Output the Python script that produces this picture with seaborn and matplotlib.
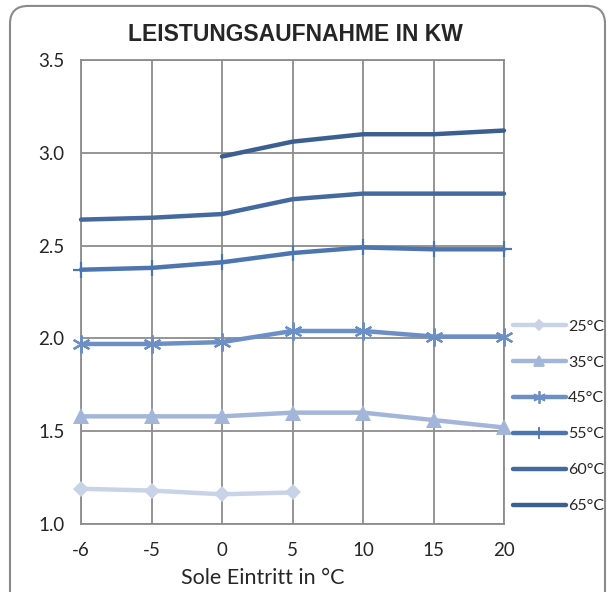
import matplotlib
matplotlib.use('Agg')
import matplotlib.pyplot as plt
import seaborn as sns
import numpy as np
import pandas as pd
from matplotlib.patches import FancyBboxPatch
from matplotlib.lines import Line2D

# ===============================
# DATEN
# ===============================
sole_temp = ['-6', '-5', '0', '5', '10', '15', '20']

t25 = [1.19, 1.18, 1.16, 1.17, np.nan, np.nan, np.nan]
t35 = [1.58, 1.58, 1.58, 1.60, 1.60, 1.56, 1.52]
t45 = [1.97, 1.97, 1.98, 2.04, 2.04, 2.01, 2.01]
t55 = [2.37, 2.38, 2.41, 2.46, 2.49, 2.48, 2.48]
t60 = [2.64, 2.65, 2.67, 2.75, 2.78, 2.78, 2.78]
t65 = [np.nan, np.nan, 2.98, 3.06, 3.10, 3.10, 3.12]

labels = ['25°C', '35°C', '45°C', '55°C', '60°C', '65°C']
werte = [t25, t35, t45, t55, t60, t65]

# Stil pro Reihe
farben = ['#c8d3e8', '#a3b5d8', '#6c8fc6', '#4d76b0', '#44699f', '#3c5f91']
marker = ['D', '^', (6, 2, 0), '+', None, None]
msize = [8, 11, 13, 12, 0, 0]

sns.set_style('white')
plt.rcParams['font.family'] = ['Lato', 'DejaVu Sans']

fig = plt.figure(figsize=(6.12, 5.92), dpi=100)
ax = fig.add_axes([81 / 612, 1 - 524 / 592, 423 / 612, 464 / 592])

pos = np.arange(len(sole_temp))
for lab, y, c, m, s in zip(labels, werte, farben, marker, msize):
    sns.lineplot(x=pos, y=y, ax=ax, color=c, linewidth=3.2, marker=m,
                 markersize=s, markeredgewidth=1.6 if m in ['+', (6, 2, 0)] else 0,
                 markeredgecolor=c, clip_on=False, legend=False, zorder=3)

ax.set_xlim(0, 6)
ax.set_ylim(1.0, 3.5)
ax.set_xticks(pos)
ax.set_xticklabels(sole_temp)
ax.set_yticks([1.0, 1.5, 2.0, 2.5, 3.0, 3.5])
ax.set_yticklabels(['1.0', '1.5', '2.0', '2.5', '3.0', '3.5'])
ax.grid(True, color='#8c8c8c', linewidth=1.3)
ax.set_axisbelow(True)
for sp in ax.spines.values():
    sp.set_color('#8c8c8c')
    sp.set_linewidth(1.3)
ax.tick_params(axis='both', length=7, width=1.3, color='#8c8c8c', labelsize=13.5)
ax.tick_params(axis='y', pad=5)
ax.tick_params(axis='x', pad=6)
ax.set_xlabel('')
ax.set_ylabel('')

# Legende
handles = [Line2D([0], [0], color=c, linewidth=3.2, marker=m,
                  markersize=s * 0.7, markeredgewidth=1.3, markeredgecolor=c)
           for c, m, s in zip(farben, marker, msize)]
ax.legend(handles, labels, loc='upper left', bbox_to_anchor=(0.995, 0.465),
          frameon=False, fontsize=11.5, handlelength=3.3, handletextpad=0.15,
          labelspacing=1.36, borderaxespad=0.3)

# Titel und Achsenbeschriftung
fig.text(0.482, 0.941, 'LEISTUNGSAUFNAHME IN KW', ha='center', va='center',
         fontsize=16.5, fontweight='bold', family='Liberation Sans')
fig.text(0.43, 0.024, 'Sole Eintritt in °C', ha='center', va='center', fontsize=15.5)

# Abgerundeter Rahmen
rahmen = FancyBboxPatch((10 / 612, -0.03), 595 / 612, 1.02, transform=fig.transFigure,
                        boxstyle='round,pad=0,rounding_size=0.03', fill=False,
                        edgecolor='#8a8a8a', linewidth=1.5, clip_on=False)
fig.patches.append(rahmen)

fig.savefig('out.png', dpi=100)
